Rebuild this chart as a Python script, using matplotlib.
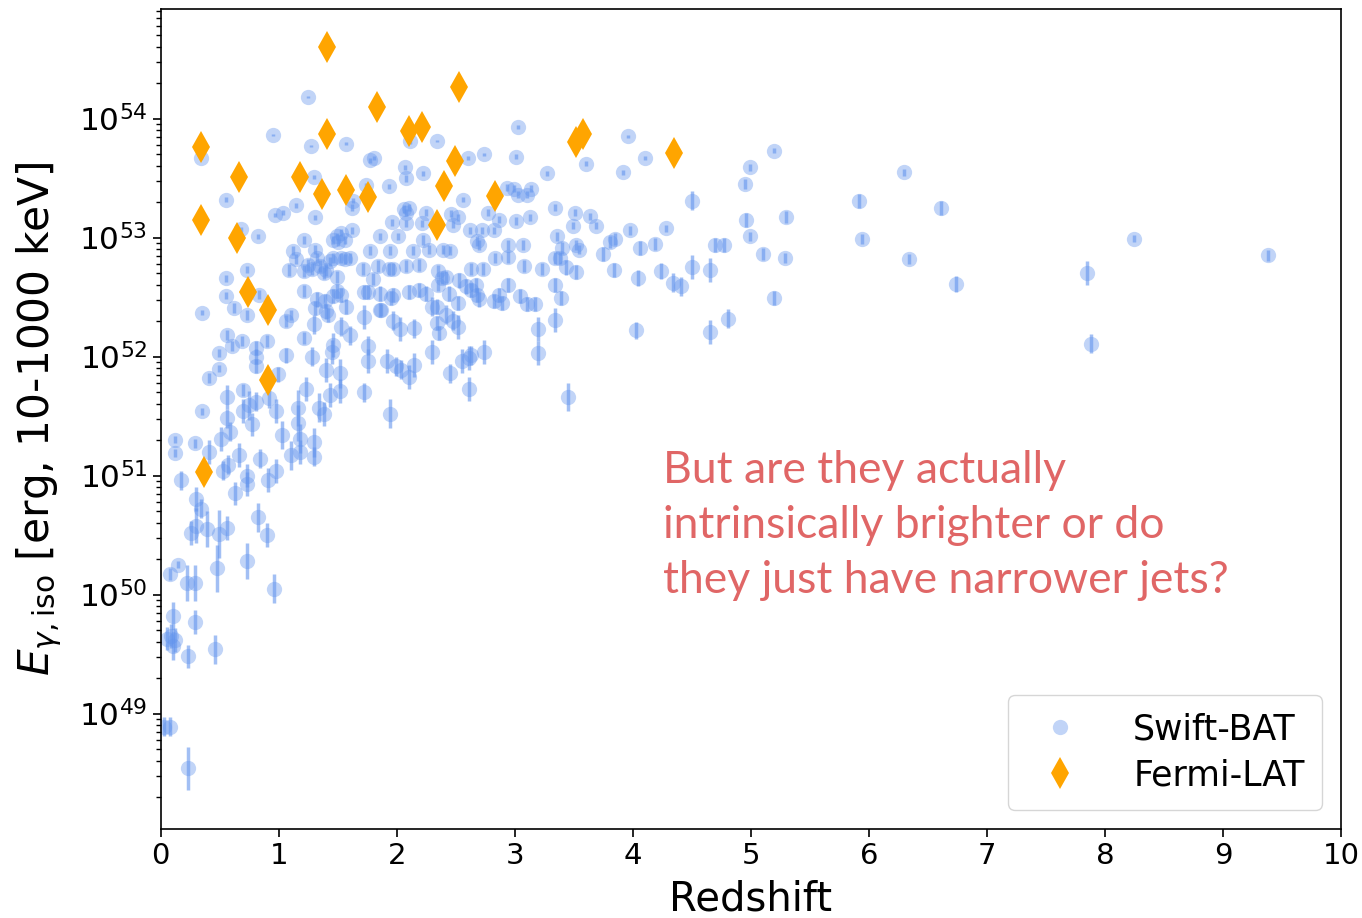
import numpy as np
import matplotlib
matplotlib.use("Agg")
import matplotlib.pyplot as plt
from matplotlib.ticker import LogLocator, NullFormatter

# Swift-BAT bursts: redshift, log10(E_iso / erg), 1-sigma error in dex
swift_z = [
    0.03, 0.08, 0.23, 0.05, 0.09, 0.12, 0.10, 0.23, 0.46, 0.10, 0.29,
    0.08, 0.15, 0.22, 0.29, 0.48, 0.73, 0.96,
    0.26, 0.30, 0.39, 0.49, 0.56, 0.82, 0.90, 0.34, 0.30, 0.63,
    0.17, 0.12, 0.29, 0.12, 0.41, 0.66, 0.57, 0.53, 0.73, 0.73, 0.84, 0.91, 0.98,
    1.03, 1.10, 1.16, 1.16, 1.18, 1.18, 1.30, 1.30, 1.23, 1.34, 1.38, 1.43, 1.52,
    1.52, 1.40, 1.45, 1.46, 1.28, 1.21, 1.30, 1.42, 1.53, 1.60, 1.72, 1.76, 1.76,
    1.72, 1.87, 1.97, 2.03, 1.94, 1.92, 1.99, 2.04, 2.10, 2.15, 2.30, 2.30, 2.36,
    2.42, 2.48, 2.52, 2.45, 2.55, 2.61, 2.61, 2.74, 2.89, 3.10, 3.17, 3.20, 3.20, 3.34,
    0.35, 0.62, 0.73, 1.10, 1.06, 0.56, 0.60, 0.69, 0.49, 0.81, 0.81, 0.81, 0.90,
    1.06, 0.49, 0.41, 0.99, 0.56, 0.70, 0.75, 0.81, 0.92, 0.98, 0.70, 0.35, 0.56,
    0.77, 0.59, 0.51,
    1.25, 0.95, 1.27, 1.57, 0.34, 1.77, 1.81, 2.11, 2.34, 2.60, 2.74, 3.01, 3.03,
    3.27, 0.55, 1.30, 1.15, 0.97, 1.04, 1.31, 0.82, 0.68, 1.21, 2.07, 2.22, 2.08,
    1.93, 1.74, 1.63, 1.62, 2.56, 2.06, 2.10, 2.08, 2.25, 1.96, 2.08, 2.21, 2.46,
    2.52, 2.48, 2.77, 2.93, 2.99, 3.03, 3.10, 3.14, 2.87, 3.01, 3.13, 3.34, 2.82,
    2.94, 3.07, 2.62, 2.68, 2.72, 2.83, 2.94, 3.08, 3.23, 3.34, 3.34, 2.63, 2.34,
    2.35, 2.38, 2.42, 2.35, 2.39, 2.45, 2.27, 2.19, 2.22, 2.08, 1.97, 1.84, 1.93,
    1.71, 1.80, 1.72, 1.76, 2.10, 2.19, 1.97, 1.86, 2.15,
    1.49, 1.53, 1.46, 1.50, 1.56, 1.62, 1.43, 1.46, 1.53, 1.56, 1.60, 1.40, 1.38,
    1.49, 1.32, 1.35, 1.12, 1.15, 1.09, 1.21, 1.25, 1.28, 1.31, 1.49, 1.53, 1.46,
    1.32, 1.39, 1.31, 1.40, 1.57, 1.21, 0.55, 0.55, 0.73, 0.83, 2.82, 2.87, 2.94,
    3.04, 2.68, 2.67, 2.59, 2.52, 2.34,
    3.60, 3.92, 3.96, 4.10, 4.28, 3.51, 3.49, 3.64, 3.69, 3.52, 3.54, 3.38, 3.40,
    3.39, 3.45, 3.75, 3.81, 3.85, 3.84, 4.04, 4.06, 4.19, 4.24, 4.34, 4.41, 4.03,
    3.98, 3.36, 3.43, 3.52, 2.70, 2.63, 2.73,
    1.86, 2.01, 1.77, 1.94, 2.14, 1.86, 1.95, 2.25, 2.44, 2.53, 2.63, 2.70,
    4.50, 4.50, 4.65, 4.70, 4.77, 4.65, 4.81, 5.20, 4.96, 4.99, 4.95, 4.99, 5.20,
    5.30, 5.10, 5.29, 5.92, 5.94, 6.61, 6.30, 6.34, 6.74, 7.85, 7.88, 8.25, 9.38,
]
swift_logE = [
    48.89, 48.89, 48.54, 49.63, 49.65, 49.62, 49.57, 49.48, 49.54, 49.82, 49.77,
    50.17, 50.25, 50.10, 50.10, 50.22, 50.28, 50.05,
    50.52, 50.58, 50.55, 50.51, 50.56, 50.65, 50.50, 50.72, 50.80, 50.85,
    50.96, 51.30, 51.27, 51.19, 51.20, 51.17, 51.09, 51.04, 51.00, 50.93, 51.14, 50.96, 51.04,
    51.34, 51.17, 51.57, 51.44, 51.31, 51.20, 51.28, 51.16, 51.73, 51.57, 51.52, 51.68, 51.71,
    51.86, 51.89, 52.04, 52.10, 52.00, 52.16, 52.27, 52.35, 52.25, 52.18, 52.33, 52.09, 51.96,
    51.70, 52.39, 52.30, 52.23, 51.52, 51.96, 51.92, 51.89, 51.83, 51.93, 52.42, 52.04, 52.20,
    52.35, 52.30, 52.25, 51.86, 51.96, 51.99, 51.73, 52.04, 52.45, 52.44, 52.44, 52.23, 52.03, 52.31,
    52.37, 52.41, 52.35, 52.35, 52.30, 52.18, 52.09, 52.13, 52.03, 52.07, 52.00, 51.92, 52.13,
    52.01, 51.90, 51.82, 51.85, 51.66, 51.72, 51.59, 51.62, 51.65, 51.54, 51.54, 51.54, 51.48,
    51.43, 51.37, 51.31,
    54.18, 53.86, 53.77, 53.79, 53.67, 53.65, 53.67, 53.81, 53.81, 53.67, 53.70, 53.68, 53.93,
    53.54, 53.32, 53.51, 53.27, 53.19, 53.21, 53.17, 53.01, 53.07, 52.98, 53.59, 53.54, 53.50,
    53.43, 53.44, 53.31, 53.25, 53.32, 53.24, 53.25, 53.21, 53.21, 53.13, 53.12, 53.12, 53.20,
    53.17, 53.11, 53.21, 53.42, 53.41, 53.36, 53.36, 53.41, 53.15, 53.14, 53.17, 53.25, 53.06,
    52.94, 52.94, 53.06, 52.97, 53.06, 52.83, 52.84, 52.76, 52.74, 52.83, 52.60, 52.01, 52.28,
    52.60, 52.66, 52.67, 52.72, 52.90, 52.89, 52.90, 52.77, 52.98, 52.76, 52.74, 52.76, 52.74,
    52.74, 52.65, 52.54, 52.54, 52.54, 52.56, 52.52, 52.39, 52.24,
    53.01, 53.04, 52.98, 52.96, 52.98, 53.06, 52.80, 52.83, 52.83, 52.82, 52.83, 52.73, 52.70,
    52.67, 52.83, 52.76, 52.89, 52.82, 52.73, 52.72, 52.77, 52.74, 52.90, 52.55, 52.52, 52.51,
    52.48, 52.47, 52.41, 52.38, 52.42, 52.55, 52.51, 52.66, 52.73, 52.52, 52.47, 52.52, 52.60,
    52.51, 52.52, 52.60, 52.59, 52.45, 52.42,
    53.62, 53.55, 53.85, 53.67, 53.08, 53.21, 53.10, 53.18, 53.10, 52.94, 52.90, 52.83, 52.91,
    52.49, 51.66, 52.86, 52.96, 52.99, 52.73, 52.66, 52.91, 52.95, 52.72, 52.62, 52.59, 52.22,
    53.06, 53.01, 52.75, 52.71, 52.94, 52.74, 52.74,
    53.01, 53.01, 52.89, 52.89, 52.89, 52.53, 52.49, 52.53, 52.53, 52.64, 52.56, 52.48,
    53.31, 52.75, 52.73, 52.94, 52.94, 52.21, 52.32, 52.49, 53.15, 53.01, 53.45, 53.59, 53.73,
    53.17, 52.86, 52.83, 53.31, 52.99, 53.25, 53.55, 52.82, 52.61, 52.70, 52.11, 52.99, 52.85,
]
swift_err = [
    0.08, 0.08, 0.18, 0.10, 0.10, 0.10, 0.12, 0.10, 0.12, 0.12, 0.10,
    0.05, 0.03, 0.15, 0.15, 0.20, 0.15, 0.12,
    0.10, 0.15, 0.15, 0.20, 0.10, 0.12, 0.10, 0.08, 0.10, 0.10,
    0.08, 0.03, 0.04, 0.03, 0.10, 0.10, 0.08, 0.08, 0.10, 0.10, 0.08, 0.10, 0.10,
    0.12, 0.12, 0.15, 0.15, 0.12, 0.10, 0.12, 0.08, 0.10, 0.12, 0.10, 0.10, 0.10,
    0.12, 0.10, 0.10, 0.10, 0.08, 0.05, 0.08, 0.06, 0.08, 0.08, 0.10, 0.08, 0.10,
    0.08, 0.05, 0.08, 0.10, 0.12, 0.10, 0.08, 0.08, 0.10, 0.10, 0.08, 0.10, 0.06,
    0.08, 0.08, 0.10, 0.08, 0.10, 0.10, 0.10, 0.10, 0.06, 0.06, 0.06, 0.10, 0.10, 0.10,
    0.02, 0.04, 0.04, 0.04, 0.05, 0.04, 0.04, 0.04, 0.03, 0.06, 0.06, 0.06, 0.05,
    0.06, 0.03, 0.04, 0.06, 0.10, 0.05, 0.12, 0.08, 0.08, 0.10, 0.10, 0.03, 0.08,
    0.10, 0.08, 0.10,
    0.01, 0.01, 0.01, 0.01, 0.01, 0.02, 0.02, 0.02, 0.01, 0.02, 0.01, 0.02, 0.02,
    0.02, 0.02, 0.02, 0.02, 0.02, 0.02, 0.02, 0.02, 0.02, 0.03, 0.02, 0.02, 0.03,
    0.02, 0.02, 0.02, 0.03, 0.02, 0.03, 0.03, 0.03, 0.03, 0.03, 0.03, 0.03, 0.03,
    0.03, 0.03, 0.03, 0.03, 0.03, 0.03, 0.03, 0.03, 0.03, 0.03, 0.03, 0.03, 0.03,
    0.04, 0.04, 0.03, 0.04, 0.03, 0.04, 0.05, 0.05, 0.05, 0.05, 0.06, 0.08, 0.06,
    0.05, 0.05, 0.05, 0.05, 0.04, 0.04, 0.04, 0.05, 0.04, 0.05, 0.05, 0.05, 0.05,
    0.05, 0.05, 0.06, 0.06, 0.06, 0.06, 0.06, 0.06, 0.08,
    0.03, 0.03, 0.03, 0.03, 0.03, 0.03, 0.04, 0.04, 0.04, 0.04, 0.04, 0.05, 0.05,
    0.05, 0.04, 0.05, 0.04, 0.04, 0.05, 0.05, 0.05, 0.05, 0.04, 0.06, 0.06, 0.06,
    0.06, 0.06, 0.06, 0.06, 0.06, 0.05, 0.03, 0.03, 0.03, 0.04, 0.06, 0.06, 0.06,
    0.06, 0.06, 0.06, 0.06, 0.06, 0.06,
    0.02, 0.02, 0.01, 0.02, 0.03, 0.03, 0.03, 0.03, 0.03, 0.04, 0.04, 0.05, 0.05,
    0.06, 0.12, 0.06, 0.05, 0.05, 0.06, 0.07, 0.06, 0.05, 0.07, 0.08, 0.08, 0.07,
    0.04, 0.04, 0.06, 0.06, 0.04, 0.05, 0.05,
    0.03, 0.03, 0.04, 0.04, 0.04, 0.06, 0.06, 0.06, 0.06, 0.06, 0.06, 0.06,
    0.08, 0.10, 0.10, 0.06, 0.06, 0.10, 0.08, 0.06, 0.06, 0.04, 0.04, 0.03, 0.02,
    0.05, 0.05, 0.04, 0.06, 0.04, 0.06, 0.03, 0.04, 0.07, 0.10, 0.08, 0.03, 0.05,
]

# Fermi-LAT bursts
fermi_z = [1.41, 2.53, 1.83, 2.10, 2.21, 1.41, 0.34, 2.49, 0.66, 1.18, 1.37, 1.57,
           1.76, 2.40, 2.83, 0.34, 0.65, 2.34, 0.74, 0.91, 0.91, 0.37, 3.52, 3.58, 4.35]
fermi_logE = [54.60, 54.27, 54.10, 53.90, 53.93, 53.87, 53.76, 53.64, 53.51, 53.51, 53.37, 53.40,
              53.34, 53.43, 53.35, 53.15, 53.00, 53.11, 52.54, 52.39, 51.80, 51.03, 53.80, 53.87, 53.71]

note = "But are they actually\nintrinsically brighter or do\nthey just have narrower jets?"

swift_z = np.array(swift_z)
swift_E = 10 ** np.array(swift_logE)
err = np.array(swift_err)
yerr = [swift_E * (1 - 10 ** -err), swift_E * (10 ** err - 1)]

fig = plt.figure(figsize=(13.62, 9.18), dpi=100)
ax = fig.add_axes([0.118, 0.097, 0.8666, 0.893])

blue = "cornflowerblue"
ax.errorbar(swift_z, swift_E, yerr=yerr, fmt="none", ecolor=blue,
            elinewidth=2.5, alpha=0.6, zorder=2)
ax.plot(swift_z, swift_E, "o", ms=11, color=blue, alpha=0.4, mew=0,
        label="Swift-BAT", zorder=2)
ax.plot(fermi_z, 10 ** np.array(fermi_logE), "d", ms=16, color="orange",
        mew=0, label="Fermi-LAT", zorder=3)

ax.set_yscale("log")
ax.set_xlim(0, 10)
ax.set_ylim(10 ** 48.03, 10 ** 54.92)
ax.set_xticks(range(11))
ax.yaxis.set_major_locator(LogLocator(base=10, numticks=20))
ax.yaxis.set_minor_locator(LogLocator(base=10, subs=np.arange(2, 10), numticks=20))
ax.yaxis.set_minor_formatter(NullFormatter())
ax.tick_params(axis="both", which="major", length=6, width=1.2)
ax.tick_params(axis="x", labelsize=21)
ax.tick_params(axis="y", labelsize=22.5)
ax.tick_params(axis="both", which="minor", length=3.5, width=1)
for s in ax.spines.values():
    s.set_linewidth(1.2)

ax.set_xlabel("Redshift", fontsize=29, labelpad=7)
ax.set_ylabel(r"$E_{\gamma,\mathrm{iso}}$ [erg, 10-1000 keV]", fontsize=30.5, labelpad=11)

leg = ax.legend(loc="lower right", fontsize=25, borderpad=0.5, handletextpad=1.1,
                labelspacing=0.35, borderaxespad=0.55)

fig.text(663 / 1362, 1 - 450 / 918, note, fontsize=32, color="#e06666",
         family=["Lato", "DejaVu Sans"], va="top", ha="left", linespacing=1.42)

fig.savefig("out.png", dpi=100)
